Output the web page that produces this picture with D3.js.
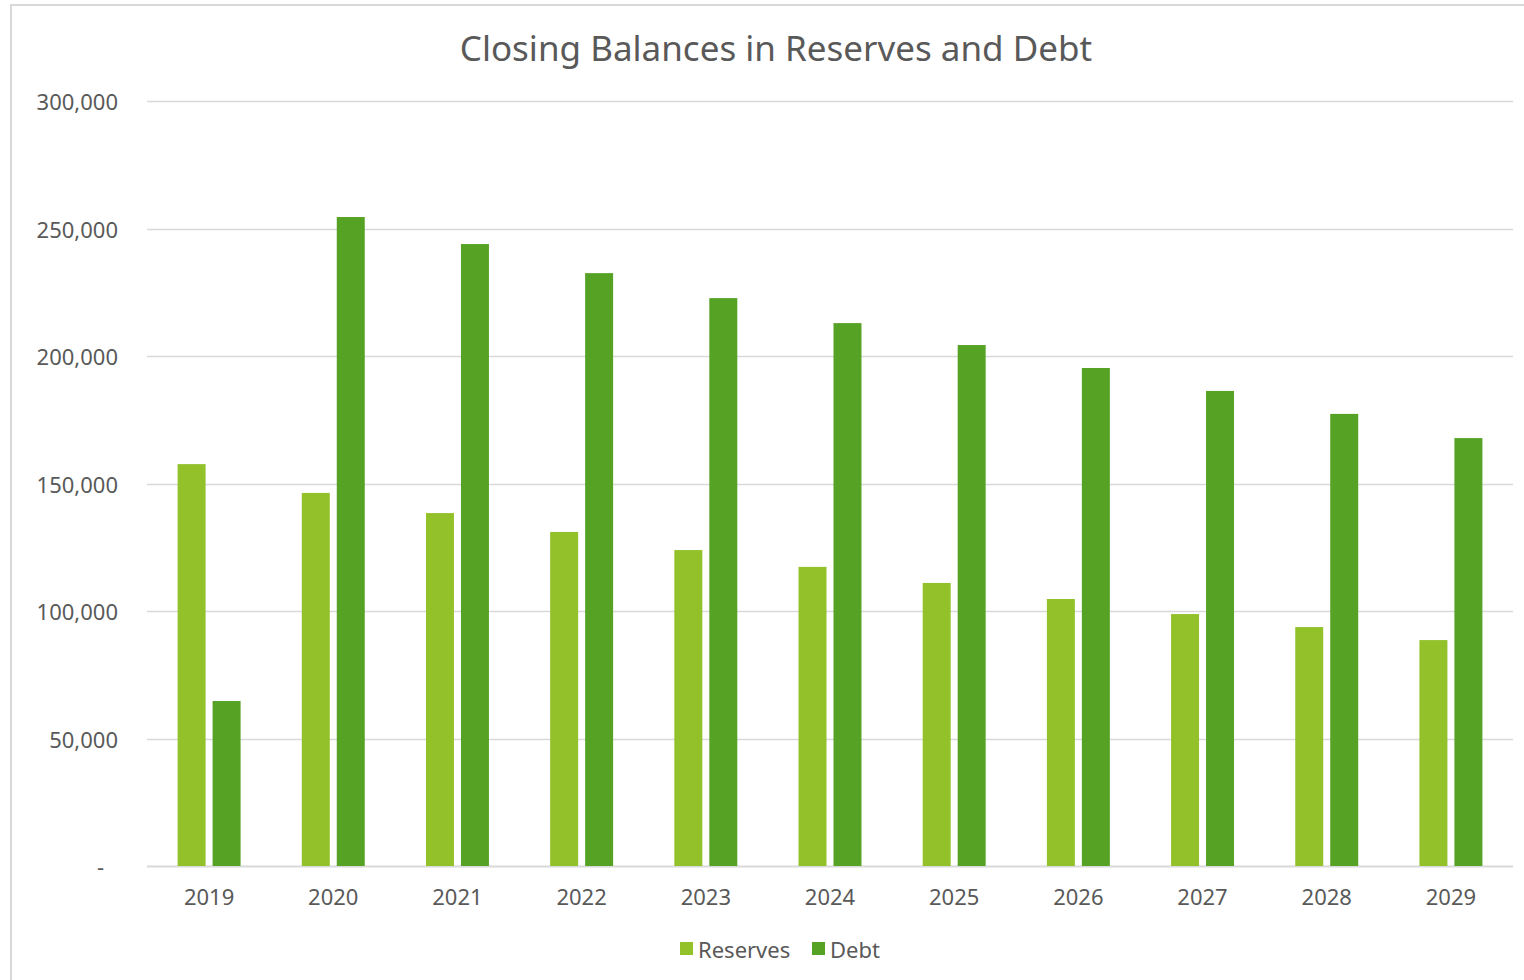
<!DOCTYPE html>
<html>
<head>
<meta charset="utf-8">
<script src="https://cdn.jsdelivr.net/npm/d3@7"></script>
<style>
  body { margin: 0; background: #fff; }
  svg { display: block; font-family: "Noto Sans", "Open Sans", sans-serif; }
</style>
</head>
<body>
<svg id="chart"></svg>
<script>
// data
var years = ["2019","2020","2021","2022","2023","2024","2025","2026","2027","2028","2029"];
var reserves = [157600, 146300, 138400, 131000, 123900, 117300, 111000, 104700, 98800, 93700, 88600];
var debt = [64700, 254500, 243900, 232500, 222700, 212900, 204300, 195300, 186300, 177300, 167800];
var yTicks = [0, 50000, 100000, 150000, 200000, 250000, 300000];
var seriesNames = ["Reserves", "Debt"];
var colors = ["#92c12a", "#55a224"];

var width = 1524, height = 980;
var svg = d3.select("#chart").attr("width", width).attr("height", height);

// chart frame
svg.append("path")
   .attr("d", "M11,980 L11,5 L1524,5")
   .attr("fill", "none")
   .attr("stroke", "#d9d9d9")
   .attr("stroke-width", 2);

var plotL = 147, plotR = 1513, plotT = 101, plotB = 866;

var y = d3.scaleLinear().domain([0, 300000]).range([plotB, plotT]);
var x = d3.scaleBand().domain(years).range([plotL, plotR]).padding(0);
var x1 = d3.scaleBand().domain([0, 1]).range([0, x.bandwidth()]).paddingInner(0.2).paddingOuter(0.875);

// gridlines
svg.append("g").selectAll("line")
   .data(yTicks)
   .enter().append("line")
   .attr("x1", plotL).attr("x2", plotR)
   .attr("y1", function(d) { return Math.round(y(d)) + 0.5; })
   .attr("y2", function(d) { return Math.round(y(d)) + 0.5; })
   .attr("stroke", "#d9d9d9")
   .attr("stroke-width", function(d) { return d === 0 ? 2 : 1.5; });

// y labels (zero shown as "-" in accounting style)
svg.append("g").selectAll("text")
   .data(yTicks)
   .enter().append("text")
   .attr("x", function(d) { return d === 0 ? 104 : 118; })
   .attr("y", function(d) { return y(d) + 9; })
   .attr("text-anchor", "end")
   .attr("fill", "#595959")
   .attr("font-size", 22)
   .text(function(d) { return d === 0 ? "-" : d3.format(",")(d); });

// bars
var groups = svg.append("g").selectAll("g")
   .data(years)
   .enter().append("g")
   .attr("transform", function(d) { return "translate(" + x(d) + ",0)"; });

groups.selectAll("rect")
   .data(function(d, i) { return [reserves[i], debt[i]]; })
   .enter().append("rect")
   .attr("x", function(d, j) { return x1(j); })
   .attr("width", x1.bandwidth())
   .attr("y", function(d) { return y(d); })
   .attr("height", function(d) { return plotB - y(d); })
   .attr("fill", function(d, j) { return colors[j]; });

// x labels
svg.append("g").selectAll("text")
   .data(years)
   .enter().append("text")
   .attr("x", function(d) { return x(d) + x.bandwidth() / 2; })
   .attr("y", 905)
   .attr("text-anchor", "middle")
   .attr("fill", "#595959")
   .attr("font-size", 22)
   .text(function(d) { return d; });

// title
svg.append("text")
   .attr("x", 776).attr("y", 61)
   .attr("text-anchor", "middle")
   .attr("fill", "#595959")
   .attr("font-size", 35)
   .text("Closing Balances in Reserves and Debt");

// legend
var legendPos = [680, 812];
var leg = svg.append("g").selectAll("g")
   .data(seriesNames)
   .enter().append("g")
   .attr("transform", function(d, i) { return "translate(" + legendPos[i] + ",942)"; });
leg.append("rect").attr("width", 13).attr("height", 13)
   .attr("fill", function(d, i) { return colors[i]; });
leg.append("text").attr("x", 18).attr("y", 16)
   .attr("fill", "#595959").attr("font-size", 22)
   .text(function(d) { return d; });
</script>
</body>
</html>
